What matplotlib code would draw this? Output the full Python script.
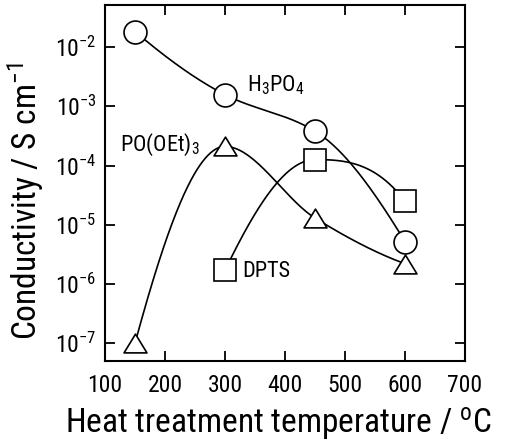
import matplotlib
matplotlib.use("Agg")
import matplotlib.pyplot as plt
import numpy as np
from matplotlib.ticker import FixedLocator, FuncFormatter, NullLocator
from matplotlib.path import Path

FONT = "Roboto Condensed"
plt.rcParams["font.family"] = [FONT, "DejaVu Sans"]
plt.rcParams["mathtext.fontset"] = "custom"
plt.rcParams["mathtext.rm"] = FONT
plt.rcParams["mathtext.it"] = FONT
plt.rcParams["mathtext.default"] = "regular"

# data
temp_h3po4 = [150, 300, 450, 600]
cond_h3po4 = [1.83e-2, 1.57e-3, 3.8e-4, 5.2e-6]
temp_poet = [150, 300, 450, 600]
cond_poet = [1.0e-7, 2.1e-4, 1.3e-5, 2.2e-6]
temp_dpts = [300, 450, 600]
cond_dpts = [1.7e-6, 1.26e-4, 2.5e-5]
xticks = [100, 200, 300, 400, 500, 600, 700]
yticks = [1e-7, 1e-6, 1e-5, 1e-4, 1e-3, 1e-2]


def pchip_curve(x, y, n=300):
    """Shape-preserving smooth curve through the given points (for drawing)."""
    x = np.asarray(x, float)
    y = np.asarray(y, float)
    h = np.diff(x)
    delta = np.diff(y) / h
    k = len(x)
    d = np.zeros(k)
    for i in range(1, k - 1):
        if delta[i - 1] * delta[i] > 0:
            w1 = 2 * h[i] + h[i - 1]
            w2 = h[i] + 2 * h[i - 1]
            d[i] = (w1 + w2) / (w1 / delta[i - 1] + w2 / delta[i])
        else:
            d[i] = 0.0

    def edge(h0, h1, m0, m1):
        dd = ((2 * h0 + h1) * m0 - h0 * m1) / (h0 + h1)
        if np.sign(dd) != np.sign(m0):
            dd = 0.0
        elif np.sign(m0) != np.sign(m1) and abs(dd) > abs(3 * m0):
            dd = 3 * m0
        return dd

    if k > 2:
        d[0] = edge(h[0], h[1], delta[0], delta[1])
        d[-1] = edge(h[-1], h[-2], delta[-1], delta[-2])
    else:
        d[:] = delta[0]
    xs = np.linspace(x[0], x[-1], n)
    ys = np.empty_like(xs)
    for j, xv in enumerate(xs):
        i = min(np.searchsorted(x, xv, side="right") - 1, k - 2)
        t = (xv - x[i]) / h[i]
        h00 = 2 * t ** 3 - 3 * t ** 2 + 1
        h10 = t ** 3 - 2 * t ** 2 + t
        h01 = -2 * t ** 3 + 3 * t ** 2
        h11 = t ** 3 - t ** 2
        ys[j] = h00 * y[i] + h10 * h[i] * d[i] + h01 * y[i + 1] + h11 * h[i] * d[i + 1]
    return xs, ys


tri = Path([(-1, -0.82), (1, -0.82), (0, 0.82), (-1, -0.82)],
           [Path.MOVETO, Path.LINETO, Path.LINETO, Path.CLOSEPOLY])

fig = plt.figure(figsize=(5.06, 4.46), dpi=100)
ax = fig.add_axes([105 / 506, 1 - 361 / 446, 360 / 506, 356 / 446])

series = [
    (temp_h3po4, cond_h3po4, "o", 16.5),
    (temp_poet, cond_poet, tri, 16.5),
    (temp_dpts, cond_dpts, "s", 15.5),
]
for xs_, ys_, mk, ms in series:
    sx, sy = pchip_curve(xs_, np.log10(ys_))
    ax.plot(sx, 10 ** sy, color="black", lw=1.2, zorder=2)
    ax.plot(xs_, ys_, ls="none", marker=mk, ms=ms, mfc="white", mec="black",
            mew=1.2, zorder=3)

ax.set_yscale("log")
ax.set_xlim(100, 700)
ax.set_ylim(10 ** -7.3, 10 ** -1.29)
ax.xaxis.set_major_locator(FixedLocator(xticks))
ax.yaxis.set_major_locator(FixedLocator(yticks))
ax.yaxis.set_minor_locator(NullLocator())
ax.xaxis.set_minor_locator(NullLocator())
ax.yaxis.set_major_formatter(FuncFormatter(lambda v, p: r"10$^{%d}$" % int(round(np.log10(v)))))
ax.tick_params(which="major", direction="in", length=7, width=1.3,
               top=True, right=True, labelsize=17)
ax.tick_params(axis="x", pad=9)
ax.tick_params(axis="y", pad=6)
for s in ax.spines.values():
    s.set_linewidth(1.5)

ax.set_xlabel(r"Heat treatment temperature / $^{\mathrm{o}}$C", fontsize=24)
ax.xaxis.label.set_verticalalignment("baseline")
ax.xaxis.set_label_coords(0.482, (361 - 433) / 356)
ax.set_ylabel(r"Conductivity / S cm$^{-1}$", fontsize=24)
ax.yaxis.label.set_rotation_mode("anchor")
ax.yaxis.label.set_verticalalignment("baseline")
ax.yaxis.label.set_horizontalalignment("center")
ax.yaxis.set_label_coords((37 - 105) / 360, (361 - 201.5) / 356)

ax.text(336, 10 ** -2.64, r"H$_3$PO$_4$", fontsize=16, va="center", ha="left")
ax.text(125, 10 ** -3.65, r"PO(OEt)$_3$", fontsize=16, va="center", ha="left")
ax.text(328, 10 ** -5.79, "DPTS", fontsize=16, va="center", ha="left")

fig.savefig("out.png", dpi=100)
